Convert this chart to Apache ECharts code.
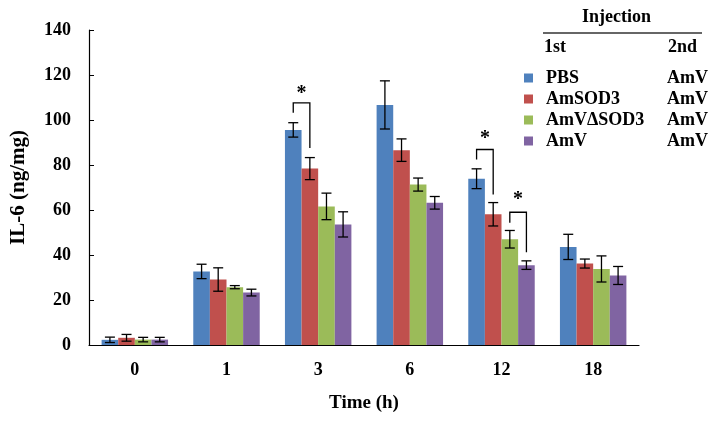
<!DOCTYPE html>
<html>
<head>
<meta charset="utf-8">
<script src="https://cdn.jsdelivr.net/npm/echarts@6/dist/echarts.min.js"></script>
<style>html,body{margin:0;padding:0;background:#fff}#c{width:721px;height:422px}</style>
</head>
<body>
<div id="c"></div>
<script>
const categories = ['0', '1', '3', '6', '12', '18'];
const seriesNames = ['PBS', 'AmSOD3', 'AmVΔSOD3', 'AmV'];
const secondInjection = ['AmV', 'AmV', 'AmV', 'AmV'];
const colors = ['#4F81BD', '#C0504D', '#9BBB59', '#8064A2'];

const pbs = [2.3, 32.7, 95.6, 106.7, 73.9, 43.6];
const pbsErr = [1.2, 3.2, 3.2, 10.7, 4.4, 5.6];
const amsod3 = [3.2, 29.1, 78.4, 86.6, 58.1, 36.2];
const amsod3Err = [1.5, 5.2, 4.9, 5.0, 5.2, 2.0];
const amvdsod3 = [2.4, 25.7, 61.6, 71.3, 47.0, 33.8];
const amvdsod3Err = [1.0, 0.7, 5.9, 2.9, 3.9, 5.8];
const amv = [2.4, 23.3, 53.6, 63.2, 35.5, 30.9];
const amvErr = [1.0, 1.5, 5.6, 2.8, 1.9, 4.0];

// significance brackets: [categoryIndex, leftSeries, rightSeries, topValue, leftEndValue, rightEndValue, starValue]
const bracket1 = [2, 0, 1, 107.6, 103.2, 87.6, 112];
const bracket2 = [4, 0, 1, 86.9, 82.4, 66.9, 92];
const bracket3 = [4, 2, 3, 59.0, 54.3, 41.2, 65];

const yTicks = { min: 0, max: 140, interval: 20 };

const values = [pbs, amsod3, amvdsod3, amv];
const errs = [pbsErr, amsod3Err, amvdsod3Err, amvErr];
const GAP = 0.275;
const FONT = '"Liberation Serif", "Times New Roman", serif';

function barCenter(api, cat, s) {
  const band = api.size([1, 0])[0];
  const bw = band * (1 - GAP) / 4;
  return api.coord([cat, 0])[0] + (s - 1.5) * bw;
}

const errData = [];
values.forEach((arr, s) => arr.forEach((v, i) => errData.push([i, v, errs[s][i], s])));

const brackets = [bracket1, bracket2, bracket3];

const chart = echarts.init(document.getElementById('c'));
const series = seriesNames.map((n, s) => ({
  name: n, type: 'bar', data: values[s], barGap: '0%', barCategoryGap: (GAP * 100) + '%',
  itemStyle: { color: colors[s] }
}));
series.push({
  type: 'custom', name: 'err', z: 5,
  encode: { x: 0, y: 1 },
  data: errData,
  renderItem: function (params, api) {
    const cat = api.value(0), v = api.value(1), e = api.value(2), s = api.value(3);
    const x = barCenter(api, cat, s);
    const yt = api.coord([cat, v + e])[1];
    const yb = api.coord([cat, v - e])[1];
    const cw = 5;
    const st = { stroke: '#000', lineWidth: 1.3 };
    return { type: 'group', children: [
      { type: 'line', shape: { x1: x, y1: yt, x2: x, y2: yb }, style: st },
      { type: 'line', shape: { x1: x - cw, y1: yt, x2: x + cw, y2: yt }, style: st },
      { type: 'line', shape: { x1: x - cw, y1: yb, x2: x + cw, y2: yb }, style: st }
    ]};
  }
});
series.push({
  type: 'custom', name: 'sig', z: 6,
  encode: { x: 0, y: 3 },
  data: brackets,
  renderItem: function (params, api) {
    const cat = api.value(0), a = api.value(1), b = api.value(2);
    const xa = barCenter(api, cat, a), xb = barCenter(api, cat, b);
    const yTop = api.coord([cat, api.value(3)])[1];
    const yA = api.coord([cat, api.value(4)])[1];
    const yB = api.coord([cat, api.value(5)])[1];
    const yS = api.coord([cat, api.value(6)])[1];
    return { type: 'group', children: [
      { type: 'polyline', shape: { points: [[xa, yA], [xa, yTop], [xb, yTop], [xb, yB]] },
        style: { stroke: '#000', lineWidth: 1.3, fill: null } },
      { type: 'text', style: { text: '*', x: (xa + xb) / 2, y: yS + 1, align: 'center', verticalAlign: 'middle',
        font: 'bold 20px ' + FONT, fill: '#000' } }
    ]};
  }
});

chart.setOption({
  animation: false,
  grid: { left: 85, right: 82, top: 30, bottom: 77 },
  legend: {
    data: seriesNames, orient: 'vertical', left: 519, top: 64,
    icon: 'rect', itemWidth: 9, itemHeight: 9, itemGap: 3,
    formatter: function (name) { return '{a|' + name + '}{b|' + secondInjection[seriesNames.indexOf(name)] + '}'; },
    textStyle: {
      rich: {
        a: { width: 121, padding: [0, 0, 0, 8], fontFamily: FONT, fontWeight: 'bold', fontSize: 18, color: '#000', lineHeight: 18 },
        b: { fontFamily: FONT, fontWeight: 'bold', fontSize: 18, color: '#000', lineHeight: 18 }
      }
    }
  },
  xAxis: {
    type: 'category', data: categories,
    axisLine: { lineStyle: { color: '#000', width: 1.2 } },
    axisTick: { inside: true, length: 5, lineStyle: { color: '#000' } },
    axisLabel: { fontFamily: FONT, fontWeight: 'bold', fontSize: 18, color: '#000', margin: 16 },
    name: 'Time (h)', nameLocation: 'middle', nameGap: 49,
    nameTextStyle: { fontFamily: FONT, fontWeight: 'bold', fontSize: 19, color: '#000' }
  },
  yAxis: {
    type: 'value', min: yTicks.min, max: yTicks.max, interval: yTicks.interval,
    splitLine: { show: false },
    axisLine: { show: true, lineStyle: { color: '#000', width: 1.2 } },
    axisTick: { show: true, inside: true, length: 5, lineStyle: { color: '#000' } },
    axisLabel: { fontFamily: FONT, fontWeight: 'bold', fontSize: 18, color: '#000', margin: 18 },
    name: 'IL-6 (ng/mg)', nameLocation: 'middle', nameGap: 60,
    nameTextStyle: { fontFamily: FONT, fontWeight: 'bold', fontSize: 21, color: '#000' }
  },
  graphic: [
    { type: 'text', left: 582, top: 8, style: { text: 'Injection', font: 'bold 18px ' + FONT, fill: '#000' } },
    { type: 'line', shape: { x1: 543, y1: 33, x2: 702, y2: 33 }, style: { stroke: '#333', lineWidth: 1.5 } },
    { type: 'text', left: 544, top: 38, style: { text: '1st', font: 'bold 18px ' + FONT, fill: '#000' } },
    { type: 'text', left: 668, top: 38, style: { text: '2nd', font: 'bold 18px ' + FONT, fill: '#000' } }
  ],
  series: series
});
</script>
</body>
</html>
